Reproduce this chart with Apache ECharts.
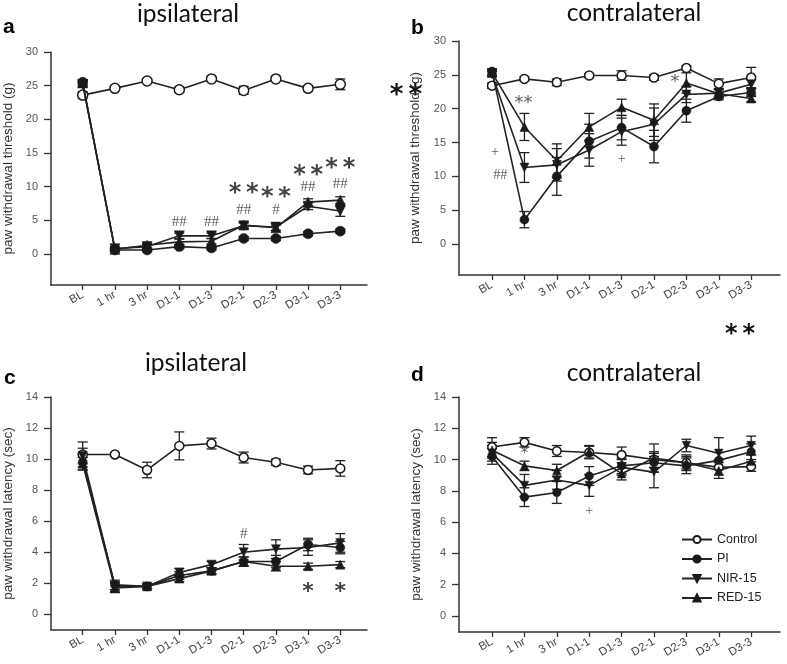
<!DOCTYPE html>
<html><head><meta charset="utf-8">
<script src="https://cdn.jsdelivr.net/npm/echarts@6/dist/echarts.min.js"></script>
<style>html,body{margin:0;padding:0;background:#fff}#c{width:787px;height:664px}</style>
</head><body><div id="c"></div>
<script>
const categories = ['BL','1 hr','3 hr','D1-1','D1-3','D2-1','D2-3','D3-1','D3-3'];
const groups = ['Control','PI','NIR-15','RED-15'];
const thresholdTicks = [0,5,10,15,20,25,30];
const latencyTicks = [0,2,4,6,8,10,12,14];

// Panel a: ipsilateral threshold (g)
const aCtrl = [23.6, 24.6, 25.7, 24.4, 26.0, 24.3, 26.0, 24.6, 25.2];
const aCtrlErr = [0.5, 0.3, 0.3, 0.4, 0.3, 0.6, 0.3, 0.4, 0.8];
const aPI = [25.5, 0.6, 0.6, 1.1, 0.9, 2.3, 2.3, 3.0, 3.4];
const aPIErr = [0.4, 0.2, 0.2, 0.3, 0.3, 0.3, 0.3, 0.3, 0.3];
const aNIR = [25.2, 0.8, 1.1, 2.7, 2.7, 4.2, 4.0, 7.1, 6.4];
const aNIRErr = [0.4, 0.3, 0.3, 0.4, 0.4, 0.4, 0.5, 0.5, 0.8];
const aRED = [25.4, 0.7, 1.3, 1.8, 1.9, 4.3, 3.9, 7.7, 8.0];
const aREDErr = [0.4, 0.3, 0.3, 0.4, 0.4, 0.4, 0.4, 0.5, 0.5];

// Panel b: contralateral threshold (g)
const bCtrl = [23.4, 24.4, 23.9, 24.9, 24.9, 24.6, 26.0, 23.7, 24.6];
const bCtrlErr = [0.4, 0.3, 0.5, 0.3, 0.7, 0.4, 0.3, 0.7, 1.5];
const bPI = [25.5, 3.6, 10.0, 15.2, 17.2, 14.4, 19.7, 21.8, 22.4];
const bPIErr = [0.4, 1.2, 2.8, 2.5, 1.8, 2.4, 1.7, 0.5, 0.6];
const bNIR = [25.1, 11.3, 11.7, 13.9, 16.6, 17.7, 22.1, 22.3, 23.6];
const bNIRErr = [0.4, 2.2, 2.4, 2.4, 2.0, 2.4, 1.2, 0.6, 0.7];
const bRED = [25.3, 17.3, 12.3, 17.3, 20.2, 18.3, 23.8, 22.2, 21.5];
const bREDErr = [0.4, 2.0, 2.5, 2.0, 1.2, 2.4, 1.5, 0.6, 0.5];

// Panel c: ipsilateral latency (sec)
const cCtrl = [10.3, 10.3, 9.3, 10.85, 11.0, 10.1, 9.8, 9.3, 9.4];
const cCtrlErr = [0.8, 0.1, 0.5, 0.9, 0.35, 0.35, 0.2, 0.25, 0.5];
const cPI = [9.8, 1.9, 1.8, 2.5, 2.8, 3.4, 3.4, 4.5, 4.3];
const cPIErr = [0.5, 0.3, 0.15, 0.25, 0.2, 0.3, 0.4, 0.4, 0.4];
const cNIR = [10.2, 1.8, 1.8, 2.7, 3.2, 4.0, 4.2, 4.3, 4.6];
const cNIRErr = [0.5, 0.3, 0.15, 0.25, 0.2, 0.5, 0.6, 0.5, 0.6];
const cRED = [9.7, 1.7, 1.8, 2.3, 2.8, 3.4, 3.1, 3.1, 3.2];
const cREDErr = [0.4, 0.3, 0.15, 0.2, 0.2, 0.3, 0.3, 0.2, 0.2];

// Panel d: contralateral latency (sec)
const dCtrl = [10.8, 11.1, 10.55, 10.45, 10.3, 10.0, 9.8, 9.5, 9.55];
const dCtrlErr = [0.6, 0.3, 0.35, 0.4, 0.5, 0.5, 0.5, 0.5, 0.3];
const dPI = [10.2, 7.6, 7.9, 8.95, 9.6, 9.8, 9.6, 9.95, 10.5];
const dPIErr = [0.5, 0.6, 0.7, 0.6, 0.5, 0.6, 0.5, 0.5, 0.5];
const dNIR = [10.4, 8.35, 8.7, 8.35, 9.5, 9.2, 10.9, 10.4, 10.9];
const dNIRErr = [0.5, 0.7, 0.6, 0.7, 0.5, 1.0, 0.4, 1.0, 0.6];
const dRED = [10.6, 9.6, 9.3, 10.5, 9.1, 10.1, 9.8, 9.3, 9.9];
const dREDErr = [0.5, 0.3, 0.4, 0.4, 0.4, 0.9, 0.4, 0.5, 0.4];

// significance marks: [category index, value, text]
const annotA = [[3,4.8,'##'],[4,4.8,'##'],[5,9.8,'*\u2009*'],[5,6.5,'##'],[6,9.1,'*\u2009*'],[6,6.6,'#'],[7,12.4,'*\u2009*'],[7,9.9,'##'],[8,13.4,'*\u2009*'],[8,10.4,'##']];
const annotB = [[0.97,21.4,'**'],[0.09,13.6,'+'],[0.25,10.2,'##'],[4.0,12.5,'+'],[5.65,24.5,'*']];
const annotC = [[5,5.2,'#'],[7,1.76,'*'],[8,1.76,'*']];
const annotD = [[1,10.55,'*'],[3,6.67,'+']];

const panels = [
  {vals:[aCtrl,aPI,aNIR,aRED], errs:[aCtrlErr,aPIErr,aNIRErr,aREDErr], annot:annotA, ticks:thresholdTicks,
   grid:{left:48, top:52, width:319, height:233}, xr:[-0.985, 8.83], yr:[-4.6, 30], name:'paw withdrawal threshold (g)', nameGap:36, star:24, hash:15, sym:10, bold:true},
  {vals:[bCtrl,bPI,bNIR,bRED], errs:[bCtrlErr,bPIErr,bNIRErr,bREDErr], annot:annotB, ticks:thresholdTicks,
   grid:{left:459, top:41, width:321, height:234}, xr:[-1.02, 8.89], yr:[-4.58, 30], name:'paw withdrawal threshold (g)', nameGap:37, star:18, hash:14, sym:9, bold:false},
  {vals:[cCtrl,cPI,cNIR,cRED], errs:[cCtrlErr,cPIErr,cNIRErr,cREDErr], annot:annotC, ticks:latencyTicks,
   grid:{left:48, top:397, width:319, height:233}, xr:[-0.985, 8.83], yr:[-1.01, 14], name:'paw withdrawal latency (sec)', nameGap:36, star:22, hash:15, sym:9, bold:true},
  {vals:[dCtrl,dPI,dNIR,dRED], errs:[dCtrlErr,dPIErr,dNIRErr,dREDErr], annot:annotD, ticks:latencyTicks,
   grid:{left:459, top:397, width:321, height:235}, xr:[-1.02, 8.89], yr:[-1.02, 14], name:'paw withdrawal latency (sec)', nameGap:36, star:15, hash:14, sym:8.5, bold:false}
];

const symbols = ['circle','circle','path://M0,0L10,0L5,8.7Z','triangle'];
const ink = '#1a1a1a';
const idx = categories.map((c,i)=>i);

const grids=[], xAxes=[], yAxes=[], series=[];
panels.forEach((p,k)=>{
  grids.push(Object.assign({containLabel:false}, p.grid));
  xAxes.push({type:'value', gridIndex:k, min:p.xr[0], max:p.xr[1],
    axisLine:{show:true, onZero:false, lineStyle:{color:'#333', width:1.5}},
    axisTick:{show:true, customValues:idx, length:5, lineStyle:{color:'#333', width:1.3}},
    axisLabel:{customValues:idx, formatter:v=>categories[Math.round(v)], rotate:30, margin:9, fontSize:11.5, color:'#444', fontFamily:'Liberation Sans'},
    splitLine:{show:false}});
  yAxes.push({type:'value', gridIndex:k, min:p.yr[0], max:p.yr[1],
    axisLine:{show:true, onZero:false, lineStyle:{color:'#333', width:1.5}},
    axisTick:{show:true, customValues:p.ticks, length:7, lineStyle:{color:'#333', width:1.3}},
    axisLabel:{customValues:p.ticks, margin:13, fontSize:11, color:'#555', fontFamily:'Liberation Sans'},
    splitLine:{show:false},
    name:p.name, nameLocation:'middle', nameGap:p.nameGap,
    nameTextStyle:{fontSize:13.5, color:'#333', fontFamily:'Liberation Sans'}});
  // error bars
  const ebData=[];
  p.vals.forEach((arr,g)=>arr.forEach((v,i)=>ebData.push([i, v-p.errs[g][i], v+p.errs[g][i]])));
  series.push({type:'custom', xAxisIndex:k, yAxisIndex:k, silent:true, z:2, animation:false,
    data:ebData, encode:{x:0, y:[1,2]},
    renderItem:(params, api)=>{
      const x=api.value(0), lo=api.value(1), hi=api.value(2);
      const a=api.coord([x,hi]), b=api.coord([x,lo]); const w=5;
      const st={stroke:'#222', lineWidth:1.3};
      return {type:'group', children:[
        {type:'line', shape:{x1:a[0],y1:a[1],x2:b[0],y2:b[1]}, style:st},
        {type:'line', shape:{x1:a[0]-w,y1:a[1],x2:a[0]+w,y2:a[1]}, style:st},
        {type:'line', shape:{x1:b[0]-w,y1:b[1],x2:b[0]+w,y2:b[1]}, style:st}]};
    }});
  p.vals.forEach((arr,g)=>{
    series.push({type:'line', name:groups[g], xAxisIndex:k, yAxisIndex:k, animation:false,
      data:arr.map((v,i)=>[i,v]), symbol:symbols[g], symbolSize:p.sym, showAllSymbol:true,
      itemStyle:{color:g===0?'#fff':ink, borderColor:ink, borderWidth:g===0?1.5:0.5},
      lineStyle:{color:'#222', width:1.6}, z:3+(g===0?0:1)});
  });
  series.push({type:'scatter', xAxisIndex:k, yAxisIndex:k, silent:true, z:6, animation:false, symbolSize:0,
    data:p.annot.map(a=>{
      const isStar=a[2].indexOf('*')>=0;
      const fs=isStar?p.star:p.hash;
      return {value:[a[0],a[1]], label:{show:true, position:'inside', formatter:a[2], fontSize:fs,
        fontWeight:(isStar&&p.bold)?'bold':'normal',
        fontFamily:isStar?'DejaVu Sans':'Liberation Serif', color:isStar&&p.bold?'#111':'#333', offset:[0,isStar?fs*0.22:0]}};
    })});
});

const chart = echarts.init(document.getElementById('c'), null, {renderer:'canvas'});
chart.setOption({
  animation:false,
  backgroundColor:'#fff',
  grid:grids, xAxis:xAxes, yAxis:yAxes, series:series,
  legend:{data:groups, orient:'vertical', left:676, top:528, itemWidth:30, itemHeight:9, itemGap:6.5,
    textStyle:{fontSize:12.5, color:'#222', fontFamily:'Liberation Sans'}},
  graphic:[
    {type:'text', x:188, y:14, style:{text:'ipsilateral', font:'24.5px Lato', fill:'#111', textAlign:'center', textVerticalAlign:'middle'}},
    {type:'text', x:634, y:13, style:{text:'contralateral', font:'24.5px Lato', fill:'#111', textAlign:'center', textVerticalAlign:'middle'}},
    {type:'text', x:196, y:363, style:{text:'ipsilateral', font:'24.5px Lato', fill:'#111', textAlign:'center', textVerticalAlign:'middle'}},
    {type:'text', x:634, y:373, style:{text:'contralateral', font:'24.5px Lato', fill:'#111', textAlign:'center', textVerticalAlign:'middle'}},
    {type:'text', x:3, y:27, style:{text:'a', font:'bold 21px Liberation Sans', fill:'#000', textVerticalAlign:'middle'}},
    {type:'text', x:411, y:28, style:{text:'b', font:'bold 21px Liberation Sans', fill:'#000', textVerticalAlign:'middle'}},
    {type:'text', x:4, y:378, style:{text:'c', font:'bold 21px Liberation Sans', fill:'#000', textVerticalAlign:'middle'}},
    {type:'text', x:411, y:375, style:{text:'d', font:'bold 21px Liberation Sans', fill:'#000', textVerticalAlign:'middle'}},
    {type:'text', x:406, y:96, style:{text:'*\u2009*', font:'bold 26px DejaVu Sans', fill:'#111', textAlign:'center', textVerticalAlign:'middle'}},
    {type:'text', x:740, y:335, style:{text:'*\u2009*', font:'bold 24px DejaVu Sans', fill:'#111', textAlign:'center', textVerticalAlign:'middle'}}
  ]
});
</script></body></html>
